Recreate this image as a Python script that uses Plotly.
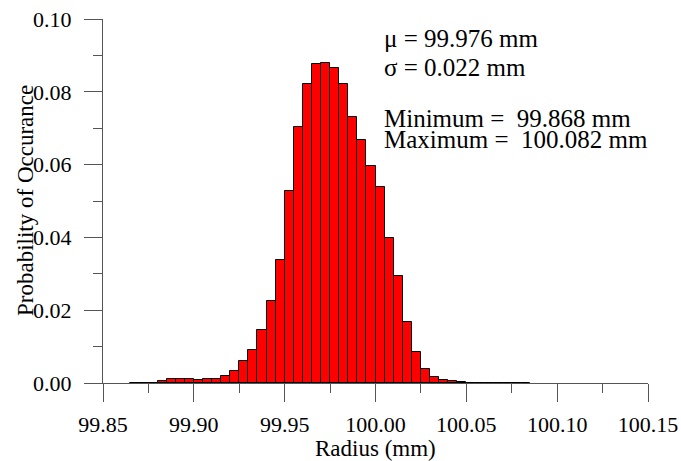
import plotly.graph_objects as go

# Histogram bins (left edges, mm) and probability of occurrence
bin_left = [
    99.865, 99.870, 99.875, 99.880, 99.885, 99.890, 99.895, 99.900, 99.905, 99.910,
    99.915, 99.920, 99.925, 99.930, 99.935, 99.940, 99.945, 99.950, 99.955, 99.960,
    99.965, 99.970, 99.975, 99.980, 99.985, 99.990, 99.995, 100.000, 100.005, 100.010,
    100.015, 100.020, 100.025, 100.030, 100.035, 100.040, 100.045, 100.050, 100.055,
    100.060, 100.065, 100.070, 100.075, 100.080,
]
probability = [
    0.0001, 0.0001, 0.0001, 0.0005, 0.0011, 0.0011, 0.0011, 0.0008, 0.0011, 0.0011,
    0.0018, 0.0033, 0.0060, 0.0090, 0.0146, 0.0226, 0.0338, 0.0527, 0.0704, 0.0821,
    0.0876, 0.0880, 0.0866, 0.0821, 0.0732, 0.0667, 0.0596, 0.0539, 0.0399, 0.0295,
    0.0167, 0.0084, 0.0039, 0.0017, 0.0007, 0.0005, 0.0004, 0.0001, 0.0001,
    0.0000, 0.0001, 0.0001, 0.0001, 0.0001,
]
bin_width = 0.005

x_ticks = [99.85, 99.90, 99.95, 100.00, 100.05, 100.10, 100.15]
y_ticks = [0.00, 0.02, 0.04, 0.06, 0.08, 0.10]

stats_lines = [
    "μ = 99.976 mm",
    "σ = 0.022 mm",
    "Minimum = \u00a099.868 mm",
    "Maximum = \u00a0100.082 mm",
]

FONT = "Liberation Serif, Times New Roman, serif"

fig = go.Figure()
fig.add_trace(go.Bar(
    x=[b + bin_width / 2 for b in bin_left],
    y=probability,
    width=bin_width,
    marker=dict(color="#ff0000", line=dict(color="#000000", width=1)),
    hoverinfo="x+y",
))

axis_common = dict(
    showgrid=False, zeroline=False, showline=True, linecolor="#555555", linewidth=1,
    ticks="outside", ticklen=18, tickwidth=1, tickcolor="#555555",
    tickfont=dict(family=FONT, size=22, color="#000000"),
    minor=dict(ticks="outside", ticklen=9, tickwidth=1, tickcolor="#555555"),
    automargin=False,
)

fig.update_xaxes(
    range=[99.85, 100.15], tickvals=x_ticks,
    ticktext=[f"{v:.2f}" for v in x_ticks],
    minor_dtick=0.025, minor_tick0=99.85, ticklabelstandoff=4,
    **axis_common,
)
fig.update_yaxes(
    range=[0, 0.10], tickvals=y_ticks,
    ticktext=[f"{v:.2f}" for v in y_ticks],
    minor_dtick=0.01, minor_tick0=0, ticklabelstandoff=8,
    **axis_common,
)

annotations = [
    dict(text="Radius (mm)", xref="paper", yref="paper", x=0.5, y=0,
         yshift=-65, xanchor="center", yanchor="middle", showarrow=False,
         font=dict(family=FONT, size=23, color="#000000")),
    dict(text="Probability of Occurance", xref="paper", yref="paper", x=0, y=0.5,
         xshift=-78, textangle=-90, xanchor="center", yanchor="middle", showarrow=False,
         font=dict(family=FONT, size=23, color="#000000")),
]
stat_y = [0.0946, 0.0866, 0.0728, 0.0668]
for txt, yy in zip(stats_lines, stat_y):
    annotations.append(dict(
        text=txt, xref="x", yref="y", x=100.005, y=yy, xanchor="left", yanchor="middle",
        xshift=-3, showarrow=False, font=dict(family=FONT, size=25, color="#000000")))

fig.update_layout(
    width=681, height=461,
    margin=dict(l=103, r=33, t=19, b=78),
    paper_bgcolor="white", plot_bgcolor="white",
    bargap=0, showlegend=False,
    annotations=annotations,
)

fig.write_html("out.html")
